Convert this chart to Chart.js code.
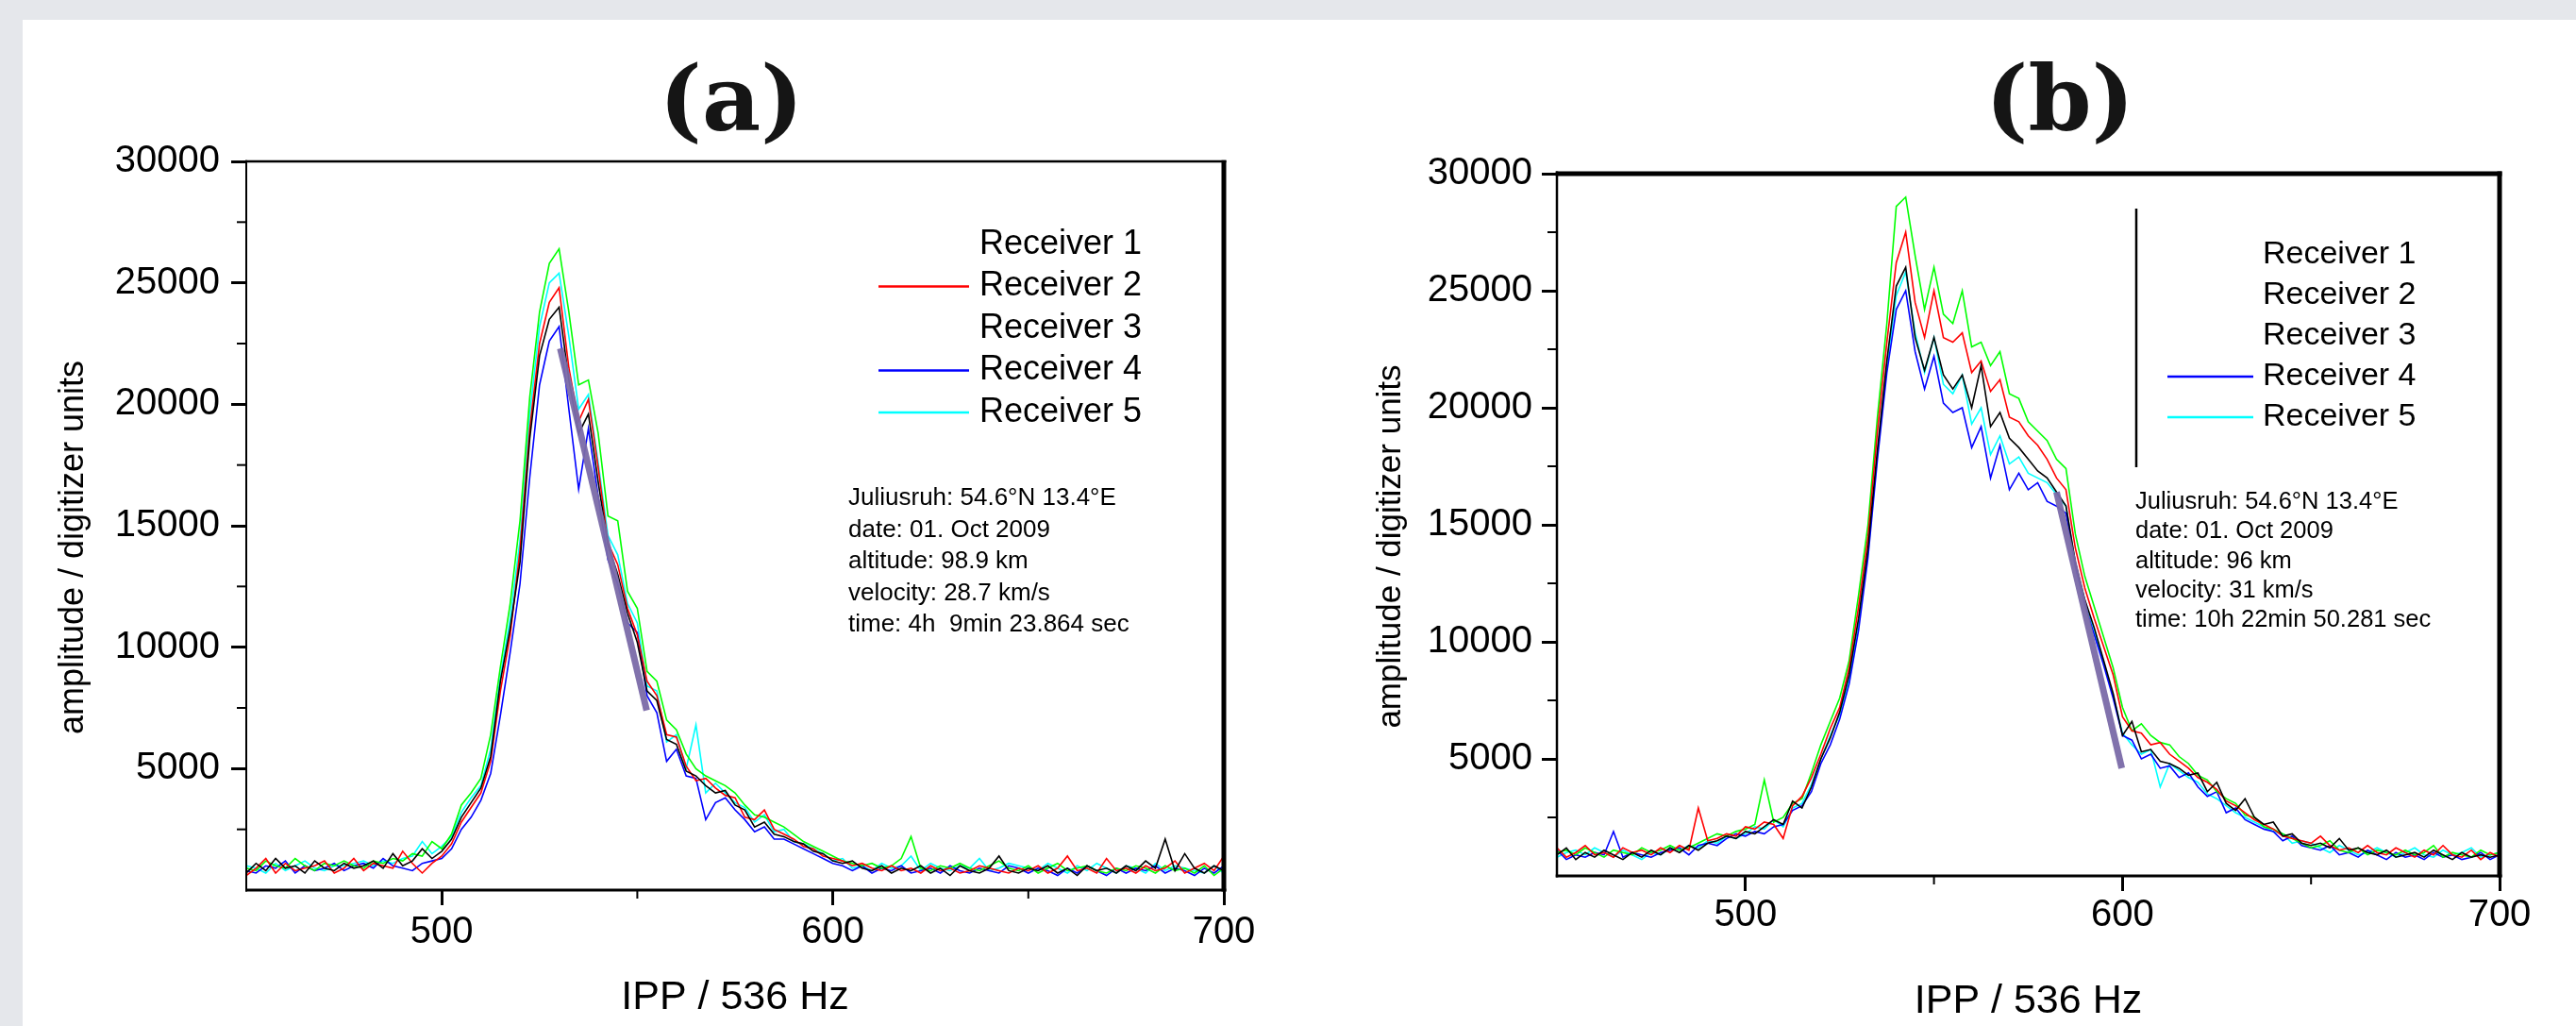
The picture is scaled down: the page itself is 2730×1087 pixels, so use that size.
<!DOCTYPE html>
<html>
<head>
<meta charset="utf-8">
<title>Receiver amplitudes vs IPP</title>
<script src="https://cdn.jsdelivr.net/npm/chart.js@4.4.1/dist/chart.umd.min.js"></script>
<style>
  html, body { margin: 0; padding: 0; }
  body { width: 2730px; height: 1087px; background: #e5e7eb; position: relative; overflow: hidden; }
  .card { position: absolute; left: 24px; top: 21px; right: 0; bottom: 0; background: #fff; }
  canvas { position: absolute; top: 0; }
  #chartA { left: 0; }
  #chartB { left: 1365px; }
  .panel-title {
    position: absolute; top: 105px; transform: translate(-50%, -50%);
    font: bold 96px "DejaVu Serif", serif; line-height: 1; color: #151515;
  }
</style>
</head>
<body>
<div class="card"></div>
<div class="panel-title" style="left:775px">(a)</div>
<div class="panel-title" style="left:2183px">(b)</div>
<canvas id="chartA" width="1365" height="1087"></canvas>
<canvas id="chartB" width="1365" height="1087"></canvas>
<script>
// sample positions (IPP index)
const ippGrid = [
  450,452.5,455,457.5,460,462.5,465,467.5,470,472.5,
  475,477.5,480,482.5,485,487.5,490,492.5,495,497.5,
  500,502.5,505,507.5,510,512.5,515,517.5,520,522.5,
  525,527.5,530,532.5,535,537.5,540,542.5,545,547.5,
  550,552.5,555,557.5,560,562.5,565,567.5,570,572.5,
  575,577.5,580,582.5,585,587.5,590,592.5,595,597.5,
  600,602.5,605,607.5,610,612.5,615,617.5,620,622.5,
  625,627.5,630,632.5,635,637.5,640,642.5,645,647.5,
  650,652.5,655,657.5,660,662.5,665,667.5,670,672.5,
  675,677.5,680,682.5,685,687.5,690,692.5,695,697.5,
  700
];

const receiverLabels = ["Receiver 1", "Receiver 2", "Receiver 3", "Receiver 4", "Receiver 5"];
const receiverColors = ["#000000", "#ff0000", "#00ff00", "#0000ff", "#00ffff"];

// ---- panel (a): 4h 9min 23.864 sec ----
const a_rx1 = [
  700,1100,800,1300,900,1000,700,1200,900,800,
  1100,900,1000,1200,900,1500,1000,1200,1700,1300,
  1600,2100,3000,3600,4200,5500,8600,10800,13500,18600,
  22000,23500,24000,21000,18800,19600,16800,14200,13000,11400,
  10200,8200,7800,6200,6000,4900,4700,4300,4000,4100,
  3500,3300,2600,2800,2300,2200,2000,1900,1600,1500,
  1200,1100,1200,900,800,1000,700,900,800,1000,
  700,900,600,1000,800,700,900,1400,800,700,
  900,800,1000,700,900,600,1000,800,900,700,
  1000,800,1200,900,2100,800,1500,900,700,1000,
  800
];
const a_rx2 = [
  600,900,1300,700,1100,800,900,1000,1200,700,
  900,1300,800,1100,1000,900,1600,1100,700,1100,
  1400,1900,2800,3400,4000,5300,8200,10500,14000,19000,
  22500,24200,24800,21500,19300,20200,17400,14300,13400,11600,
  10500,8600,8000,6400,6300,5100,4500,4600,4200,3900,
  3800,3000,2900,3300,2500,2300,2100,1800,1700,1400,
  1300,1200,1000,1100,900,800,1000,800,900,700,
  1000,800,900,700,800,1000,900,800,700,900,
  800,1000,700,900,1400,800,900,700,1300,800,
  900,700,1000,800,900,1200,700,900,1100,800,
  1400
];
const a_rx3 = [
  900,800,1200,1000,900,1300,1000,800,1100,1000,
  1200,1000,900,1200,1100,1300,1200,1500,1400,2000,
  1700,2300,3500,4000,4600,6400,9200,11800,15200,20300,
  23800,25800,26400,23800,20800,21000,18800,15400,15200,12300,
  11600,9000,8600,7000,6600,5600,5000,4700,4500,4300,
  4000,3500,3100,3000,2800,2600,2300,2000,1800,1600,
  1400,1200,1100,1000,1100,900,1000,1300,2200,900,
  800,1000,900,1100,900,800,1000,1200,900,800,
  1000,700,900,1100,800,900,1000,800,700,900,
  800,1000,900,700,1000,800,900,700,1000,600,
  900
];
const a_rx4 = [
  800,700,1000,900,1200,700,1000,800,900,1100,
  800,1000,1100,900,1300,1000,900,800,1100,1200,
  1300,1700,2500,3000,3700,4800,7200,9800,12600,17000,
  20800,22600,23200,19800,16500,19000,16200,13600,12600,11000,
  10600,8000,7300,5300,5800,4700,4600,2900,3600,3800,
  3300,2900,2400,2600,2100,2100,1900,1700,1500,1300,
  1100,1000,800,1000,700,900,800,1000,700,800,
  900,700,1000,800,700,900,800,700,1000,900,
  700,900,800,600,900,700,1000,800,600,900,
  700,900,800,1000,700,900,800,600,900,700,
  1000
];
const a_rx5 = [
  1000,900,700,1100,800,1000,1200,900,800,1000,
  1000,1100,1200,1000,1200,1100,1300,1400,2000,1500,
  1800,2200,3200,3800,4300,5800,8800,11200,14400,19600,
  23200,25000,25400,22800,19800,20400,17600,14600,13800,11800,
  11000,8400,8200,6100,6400,5000,6800,4000,4400,4000,
  3600,3400,2800,3100,2400,2500,2000,1900,1700,1500,
  1200,1300,900,1000,800,1100,900,1000,1400,800,
  1100,900,800,1000,900,1300,800,900,1100,1000,
  900,800,1100,900,700,1000,800,1100,900,700,
  1000,900,700,1100,800,1000,900,800,700,1000,
  700
];
const a_fitX = [530.3, 552.4];
const a_fitY = [22300, 7400];
const a_info = [
  "Juliusruh: 54.6°N 13.4°E",
  "date: 01. Oct 2009",
  "altitude: 98.9 km",
  "velocity: 28.7 km/s",
  "time: 4h  9min 23.864 sec"
];

// ---- panel (b): 10h 22min 50.281 sec ----
const b_rx1 = [
  900,1200,700,1000,800,1100,900,700,1000,800,
  1100,900,1200,1000,1300,1100,1400,1500,1700,1600,
  1900,1800,2100,2400,2200,3200,2900,3800,5000,5900,
  7000,8600,11000,14000,18200,22000,25200,26000,23000,21600,
  23000,21400,20800,21400,20000,21800,19200,19800,18700,18300,
  17800,17300,17000,16400,15800,13400,11800,10600,9200,7800,
  6000,6600,5300,5400,4900,4800,4600,4300,4400,3600,
  4000,3100,2800,3300,2500,2200,2300,1700,1800,1400,
  1300,1400,1200,1600,1100,1200,1000,900,1100,800,
  900,1000,800,1100,900,700,1000,800,900,800,
  900
];
const b_rx2 = [
  1200,800,1000,1300,900,1000,800,1200,1000,1100,
  900,1200,1000,1300,1100,2900,1500,1600,1800,1700,
  2100,2000,2300,2200,1600,3000,3400,4200,5200,6300,
  7200,8900,11500,14500,19000,22800,26200,27500,24500,23000,
  25000,23000,22800,23200,21500,22000,20700,21200,19600,19400,
  18800,18400,17800,17000,16500,14000,12300,11000,9800,8600,
  6800,6200,6100,5600,5700,5200,4900,4600,4200,4000,
  3700,3200,3000,2700,2400,2200,2000,1700,1600,1500,
  1400,1700,1300,1100,1200,1000,1300,1000,900,1200,
  1000,800,1100,900,1300,900,800,1100,700,1000,
  800
];
const b_rx3 = [
  1000,1100,900,1200,1000,800,1100,1000,900,1200,
  1000,1100,1300,1100,1200,1400,1600,1800,1700,1900,
  2000,2200,4100,2300,2500,3100,3300,4400,5600,6600,
  7600,9200,12000,15000,19600,23600,28600,29000,26500,24200,
  26000,24000,23600,25000,22600,22800,21800,22400,20600,20400,
  19400,19000,18600,17800,17400,14600,12800,11500,10200,8900,
  7200,6200,6500,6000,5700,5600,5100,4800,4300,4100,
  3600,3300,3100,2600,2500,2100,2000,1800,1600,1400,
  1200,1300,1500,1100,1000,1200,900,1100,1000,900,
  1100,900,1000,1300,800,1000,900,800,1100,900,
  1000
];
const b_rx4 = [
  1100,700,900,800,1000,900,1900,800,1000,900,
  800,1000,1100,1200,900,1300,1400,1300,1600,1800,
  1700,1900,1800,2100,2200,2800,3000,3600,4800,5600,
  6700,8200,10500,13600,17800,21500,24200,25000,22400,20800,
  22200,20200,19800,20000,18300,19200,17000,18400,16500,17200,
  16500,16800,16000,15800,15500,13200,11600,10300,9000,7600,
  6000,5800,5000,5200,4600,4700,4200,4400,3800,3400,
  3600,2700,2900,2400,2200,2000,1900,1500,1700,1300,
  1200,1100,1300,900,1000,800,1100,900,700,1000,
  800,900,700,1000,800,900,700,800,1000,700,
  900
];
const b_rx5 = [
  800,1000,1100,900,1200,1000,800,1100,900,700,
  1000,900,1200,1100,1300,1200,1500,1400,1700,1600,
  1800,2100,2000,2400,2100,2900,3100,3900,5000,6000,
  6900,8400,10800,13800,18000,21800,24800,25800,23200,21500,
  23000,21000,20600,21400,19300,20000,18000,18800,17600,17900,
  17200,17000,16800,16300,15800,13300,11700,10500,9100,7700,
  6100,5600,5200,5400,3800,4800,4500,4200,4000,3500,
  3300,3000,2700,2500,2300,2100,1900,1800,1400,1500,
  1400,1200,1000,1300,1100,900,1000,1200,1000,800,
  1000,1200,900,800,1100,900,1000,1200,800,900,
  1000
];
const b_fitX = [582.5, 599.8];
const b_fitY = [16400, 4600];
const b_info = [
  "Juliusruh: 54.6°N 13.4°E",
  "date: 01. Oct 2009",
  "altitude: 96 km",
  "velocity: 31 km/s",
  "time: 10h 22min 50.281 sec"
];

// axis ticks
const xMajorTicks = [500, 600, 700];
const xMinorTicks = [550, 650];
const yMajorTicks = [5000, 10000, 15000, 20000, 25000, 30000];
const yMinorTicks = [2500, 7500, 12500, 17500, 22500, 27500];

const FONT = '"Liberation Sans", Arial, sans-serif';

// draws frame, minor ticks, y title, legend and the info block
const overlay = {
  id: "overlay",
  afterDraw(chart, args, o) {
    const { ctx, chartArea: ca, scales } = chart;
    const line = (x0, y0, x1, y1) => { ctx.beginPath(); ctx.moveTo(x0, y0); ctx.lineTo(x1, y1); ctx.stroke(); };
    ctx.save();
    ctx.strokeStyle = "#000";
    ctx.fillStyle = "#000";

    // minor ticks
    ctx.lineWidth = 2;
    yMinorTicks.forEach(v => {
      const py = scales.y.getPixelForValue(v);
      line(ca.left - 10, py, ca.left, py);
    });
    xMinorTicks.forEach(v => {
      const px = scales.x.getPixelForValue(v);
      line(px, ca.bottom, px, ca.bottom + 9);
    });

    // frame [top, right, bottom, left]
    const [t, r, b, l] = o.frame;
    const w = ca.right - ca.left, h = ca.bottom - ca.top;
    ctx.fillRect(ca.left - l / 2, ca.top - t / 2, w + l / 2 + r / 2, t);
    ctx.fillRect(ca.left - l / 2, ca.bottom - b / 2, w + l / 2 + r / 2, b);
    ctx.fillRect(ca.left - l / 2, ca.top - t / 2, l, h + t / 2 + b / 2);
    ctx.fillRect(ca.right - r / 2, ca.top - t / 2, r, h + t / 2 + b / 2);

    // y axis title
    ctx.save();
    ctx.translate(o.yTitle.x, o.yTitle.y);
    ctx.rotate(-Math.PI / 2);
    ctx.font = o.yTitle.size + "px " + FONT;
    ctx.textAlign = "center";
    ctx.textBaseline = "middle";
    ctx.fillText("amplitude / digitizer units", 0, 0);
    ctx.restore();

    // legend
    const lg = o.legend;
    ctx.font = lg.size + "px " + FONT;
    ctx.textAlign = "left";
    ctx.textBaseline = "middle";
    receiverLabels.forEach((label, i) => {
      const yy = lg.top + i * lg.step;
      if (lg.swatch[i]) {
        ctx.strokeStyle = receiverColors[i];
        ctx.lineWidth = 2.5;
        line(lg.x0, yy, lg.x1, yy);
      }
      ctx.fillStyle = "#000";
      ctx.fillText(label, lg.textX, yy);
    });
    if (lg.bar) {
      ctx.strokeStyle = "#000";
      ctx.lineWidth = 2.5;
      line(lg.bar.x, lg.bar.y0, lg.bar.x, lg.bar.y1);
    }

    // info block
    const inf = o.info;
    ctx.font = inf.size + "px " + FONT;
    ctx.fillStyle = "#000";
    inf.lines.forEach((txt, i) => ctx.fillText(txt, inf.x, inf.top + i * inf.step));

    ctx.restore();
  }
};

function buildChart(id, series, fitX, fitY, cfg) {
  const datasets = series.map((vals, i) => ({
    label: receiverLabels[i],
    data: ippGrid.map((x, k) => ({ x, y: vals[k] })),
    borderColor: receiverColors[i],
    borderWidth: 1.6,
    pointRadius: 0,
    tension: 0,
    order: 1
  }));
  datasets.push({
    label: "linear fit",
    data: fitX.map((x, k) => ({ x, y: fitY[k] })),
    borderColor: "rgba(122, 106, 168, 0.95)",
    borderWidth: 7,
    borderCapStyle: "butt",
    pointRadius: 0,
    order: 0
  });

  return new Chart(document.getElementById(id), {
    type: "line",
    data: { datasets },
    options: {
      responsive: false,
      animation: false,
      devicePixelRatio: 1,
      layout: { padding: cfg.padding },
      plugins: {
        legend: { display: false },
        tooltip: { enabled: false },
        overlay: cfg.overlay
      },
      scales: {
        x: {
          type: "linear",
          min: 450,
          max: 700,
          afterBuildTicks: s => { s.ticks = xMajorTicks.map(v => ({ value: v })); },
          afterFit: s => { s.height = cfg.xHeight; },
          grid: { drawOnChartArea: false, drawTicks: true, tickLength: 16, tickWidth: 3, tickColor: "#000" },
          border: { display: false },
          ticks: {
            autoSkip: false, maxRotation: 0, padding: cfg.xPad, color: "#000",
            font: { family: FONT, size: 40 },
            callback: v => String(v)
          },
          title: {
            display: true, text: "IPP / 536 Hz", color: "#000",
            font: { family: FONT, size: 43 },
            padding: { top: 0, bottom: cfg.xTitlePad }
          }
        },
        y: {
          type: "linear",
          min: 0,
          max: 30000,
          afterBuildTicks: s => { s.ticks = yMajorTicks.map(v => ({ value: v })); },
          afterFit: s => { s.width = cfg.yWidth; },
          grid: { drawOnChartArea: false, drawTicks: true, tickLength: 16, tickWidth: 3, tickColor: "#000" },
          border: { display: false },
          ticks: {
            padding: cfg.yPad, color: "#000",
            font: { family: FONT, size: 40 },
            callback: v => String(v)
          }
        }
      }
    },
    plugins: [overlay]
  });
}

buildChart("chartA", [a_rx1, a_rx2, a_rx3, a_rx4, a_rx5], a_fitX, a_fitY, {
  padding: { top: 171, right: 68, bottom: 0, left: 0 },
  xHeight: 144, yWidth: 261, xPad: 5, yPad: 12, xTitlePad: 4,
  overlay: {
    frame: [2.5, 5, 3, 2],
    yTitle: { x: 78, y: 580, size: 36 },
    legend: { size: 36, textX: 1038, top: 259, step: 44.5, x0: 931, x1: 1027,
              swatch: [false, true, false, true, true] },
    info: { size: 26, x: 899, top: 528, step: 33.5, lines: a_info }
  }
});

buildChart("chartB", [b_rx1, b_rx2, b_rx3, b_rx4, b_rx5], b_fitX, b_fitY, {
  padding: { top: 184, right: 81, bottom: 0, left: 0 },
  xHeight: 159, yWidth: 285, xPad: 2, yPad: 10, xTitlePad: 0,
  overlay: {
    frame: [5, 5, 3, 2.5],
    yTitle: { x: 109, y: 579, size: 35 },
    legend: { size: 34, textX: 1033, top: 270, step: 43, x0: 932, x1: 1023,
              swatch: [false, false, false, true, true],
              bar: { x: 899, y0: 221, y1: 495 } },
    info: { size: 25.5, x: 898, top: 532, step: 31.3, lines: b_info }
  }
});
</script>
</body>
</html>
